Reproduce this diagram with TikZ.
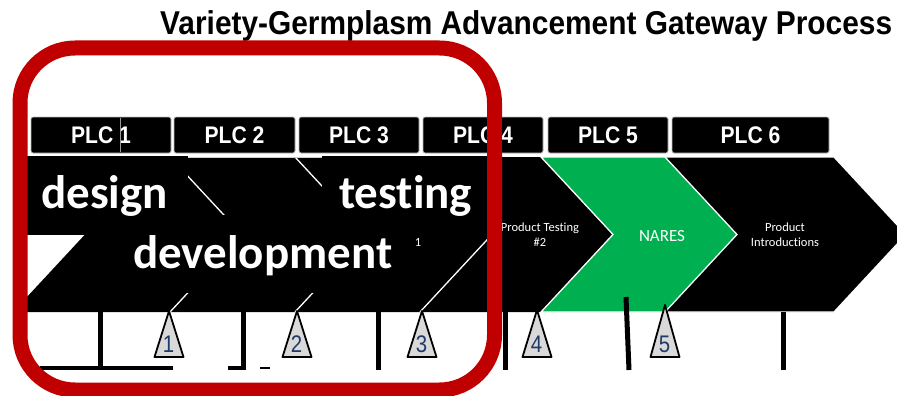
\documentclass[tikz,border=0pt]{standalone}
\usepackage{fontspec}
\setmainfont{Liberation Sans}
\newfontfamily\carlito[Ligatures=NoCommon]{Carlito}
\definecolor{framered}{HTML}{C00000}
\definecolor{naresgreen}{HTML}{00B050}
\definecolor{trifill}{HTML}{D9D9D9}
\definecolor{digitblue}{HTML}{1F3A64}
\begin{document}
\begin{tikzpicture}[x=1pt,y=-1pt,
  plcbox/.style={draw=white!75!black,line width=0.8pt,fill=black,rounded corners=2pt},
  plctext/.style={text=white,font=\fontsize{24}{24}\selectfont\bfseries,inner sep=0pt,anchor=base},
  bigtext/.style={text=white,font=\carlito\fontsize{47}{47}\selectfont\bfseries,inner sep=0pt,anchor=base west},
  smalltext/.style={text=white,font=\carlito\fontsize{12.5}{15}\selectfont,align=center,inner sep=0pt},
  sepline/.style={draw=white,line width=1.3pt},
  coverbox/.style={fill=black},
  barline/.style={line width=5pt,black},
  gate/.style={fill=trifill,draw=black,line width=1.8pt,line join=round},
  gatenum/.style={text=digitblue,font=\fontsize{24}{24}\selectfont,inner sep=0pt,anchor=base}]
\useasboundingbox (0,0) rectangle (897,396);
\fill[white] (0,0) rectangle (897,396);

% title
\node[inner sep=0pt,anchor=base west] (title) at (160,35)
  {\resizebox{732pt}{\height}{\fontsize{33}{33}\selectfont\bfseries Variety-Germplasm Advancement Gateway Process}};

% band of chevrons
\fill[black] (13,157) -- (834,157) -- (906,234.5) -- (834,312) -- (13,312) -- (85,234.5) -- cycle;
\draw[sepline] (541,157) -- (834,157) -- (906,234.5) -- (834,312) -- (541,312);
\filldraw[fill=naresgreen,draw=white,line width=1.3pt]
  (541,157) -- (665,157) -- (737,234.5) -- (665,312) -- (541,312) -- (613,234.5) -- cycle;
\draw[sepline] (170,157) -- (242,234.5) -- (170,312);
\draw[sepline] (295,157) -- (367,234.5) -- (295,312);
\draw[sepline] (420,157) -- (492,234.5) -- (420,312);
\draw[white!80!black,line width=0.6pt] (188,157) -- (322,157);

% small texts in chevrons
\node[smalltext] (pt1) at (415,235) {Product Testing\\\#1};
\node[smalltext] (pt2) at (540,235) {Product Testing\\\#2};
\node[smalltext,font=\carlito\fontsize{17}{17}\selectfont] (nares) at (662,236) {NARES};
\node[smalltext] (intro) at (785,235) {Product\\Introductions};

% covering boxes
\fill[coverbox] (14,156) rectangle (188,235);
\fill[coverbox] (322,156) rectangle (496,235);
\fill[coverbox] (110,215) rectangle (415.5,293);

% big texts
\node[bigtext] (design) at (41,208) {design};
\node[bigtext] (testing) at (339,208) {testing};
\node[bigtext] (devel) at (133,268) {development};

% bars below
\draw[barline] (100,312) -- (100,368);
\draw[line width=3.5pt] (40,368) -- (173,368);
\draw[barline] (243,312) -- (243,370);
\draw[line width=3.5pt] (228,368) -- (246,368);
\draw[line width=2.5pt] (260,368) -- (270,368);
\draw[barline] (378,312) -- (378,370);
\draw[barline] (505,312) -- (505,370);
\draw[barline] (626,297) -- (629,370);
\draw[barline] (783,312) -- (783,370);

% gates
\foreach \n/\x/\t in {1/169/311,2/297/311,3/422/311,4/537/310,5/665/305}{
  \draw[gate] (\x,\t) -- (\x+14.5,357) -- (\x-14.5,357) -- cycle;
  \node[gatenum] (g\n) at (\x-0.5,352) {\scalebox{0.85}[1]{\n}};
}

% red frame
\draw[framered,line width=15pt,rounded corners=55pt] (20,48) rectangle (494.5,390);

% PLC boxes
\foreach \n/\a/\b in {1/31/171,2/174/295,3/299/419,4/423/543,5/548/668,6/672/829}{
  \draw[plcbox] (\a,117) rectangle (\b,153);
  \node[plctext] (plc\n) at ({(\a+\b)/2},143) {\scalebox{0.88}[1]{PLC \n}};
}
\draw[white!60!black,line width=0.8pt] (120,118) -- (120,152);
% red frame over PLC 4
\draw[framered,line width=15pt] (494.5,100) -- (494.5,160);
\end{tikzpicture}
\end{document}
